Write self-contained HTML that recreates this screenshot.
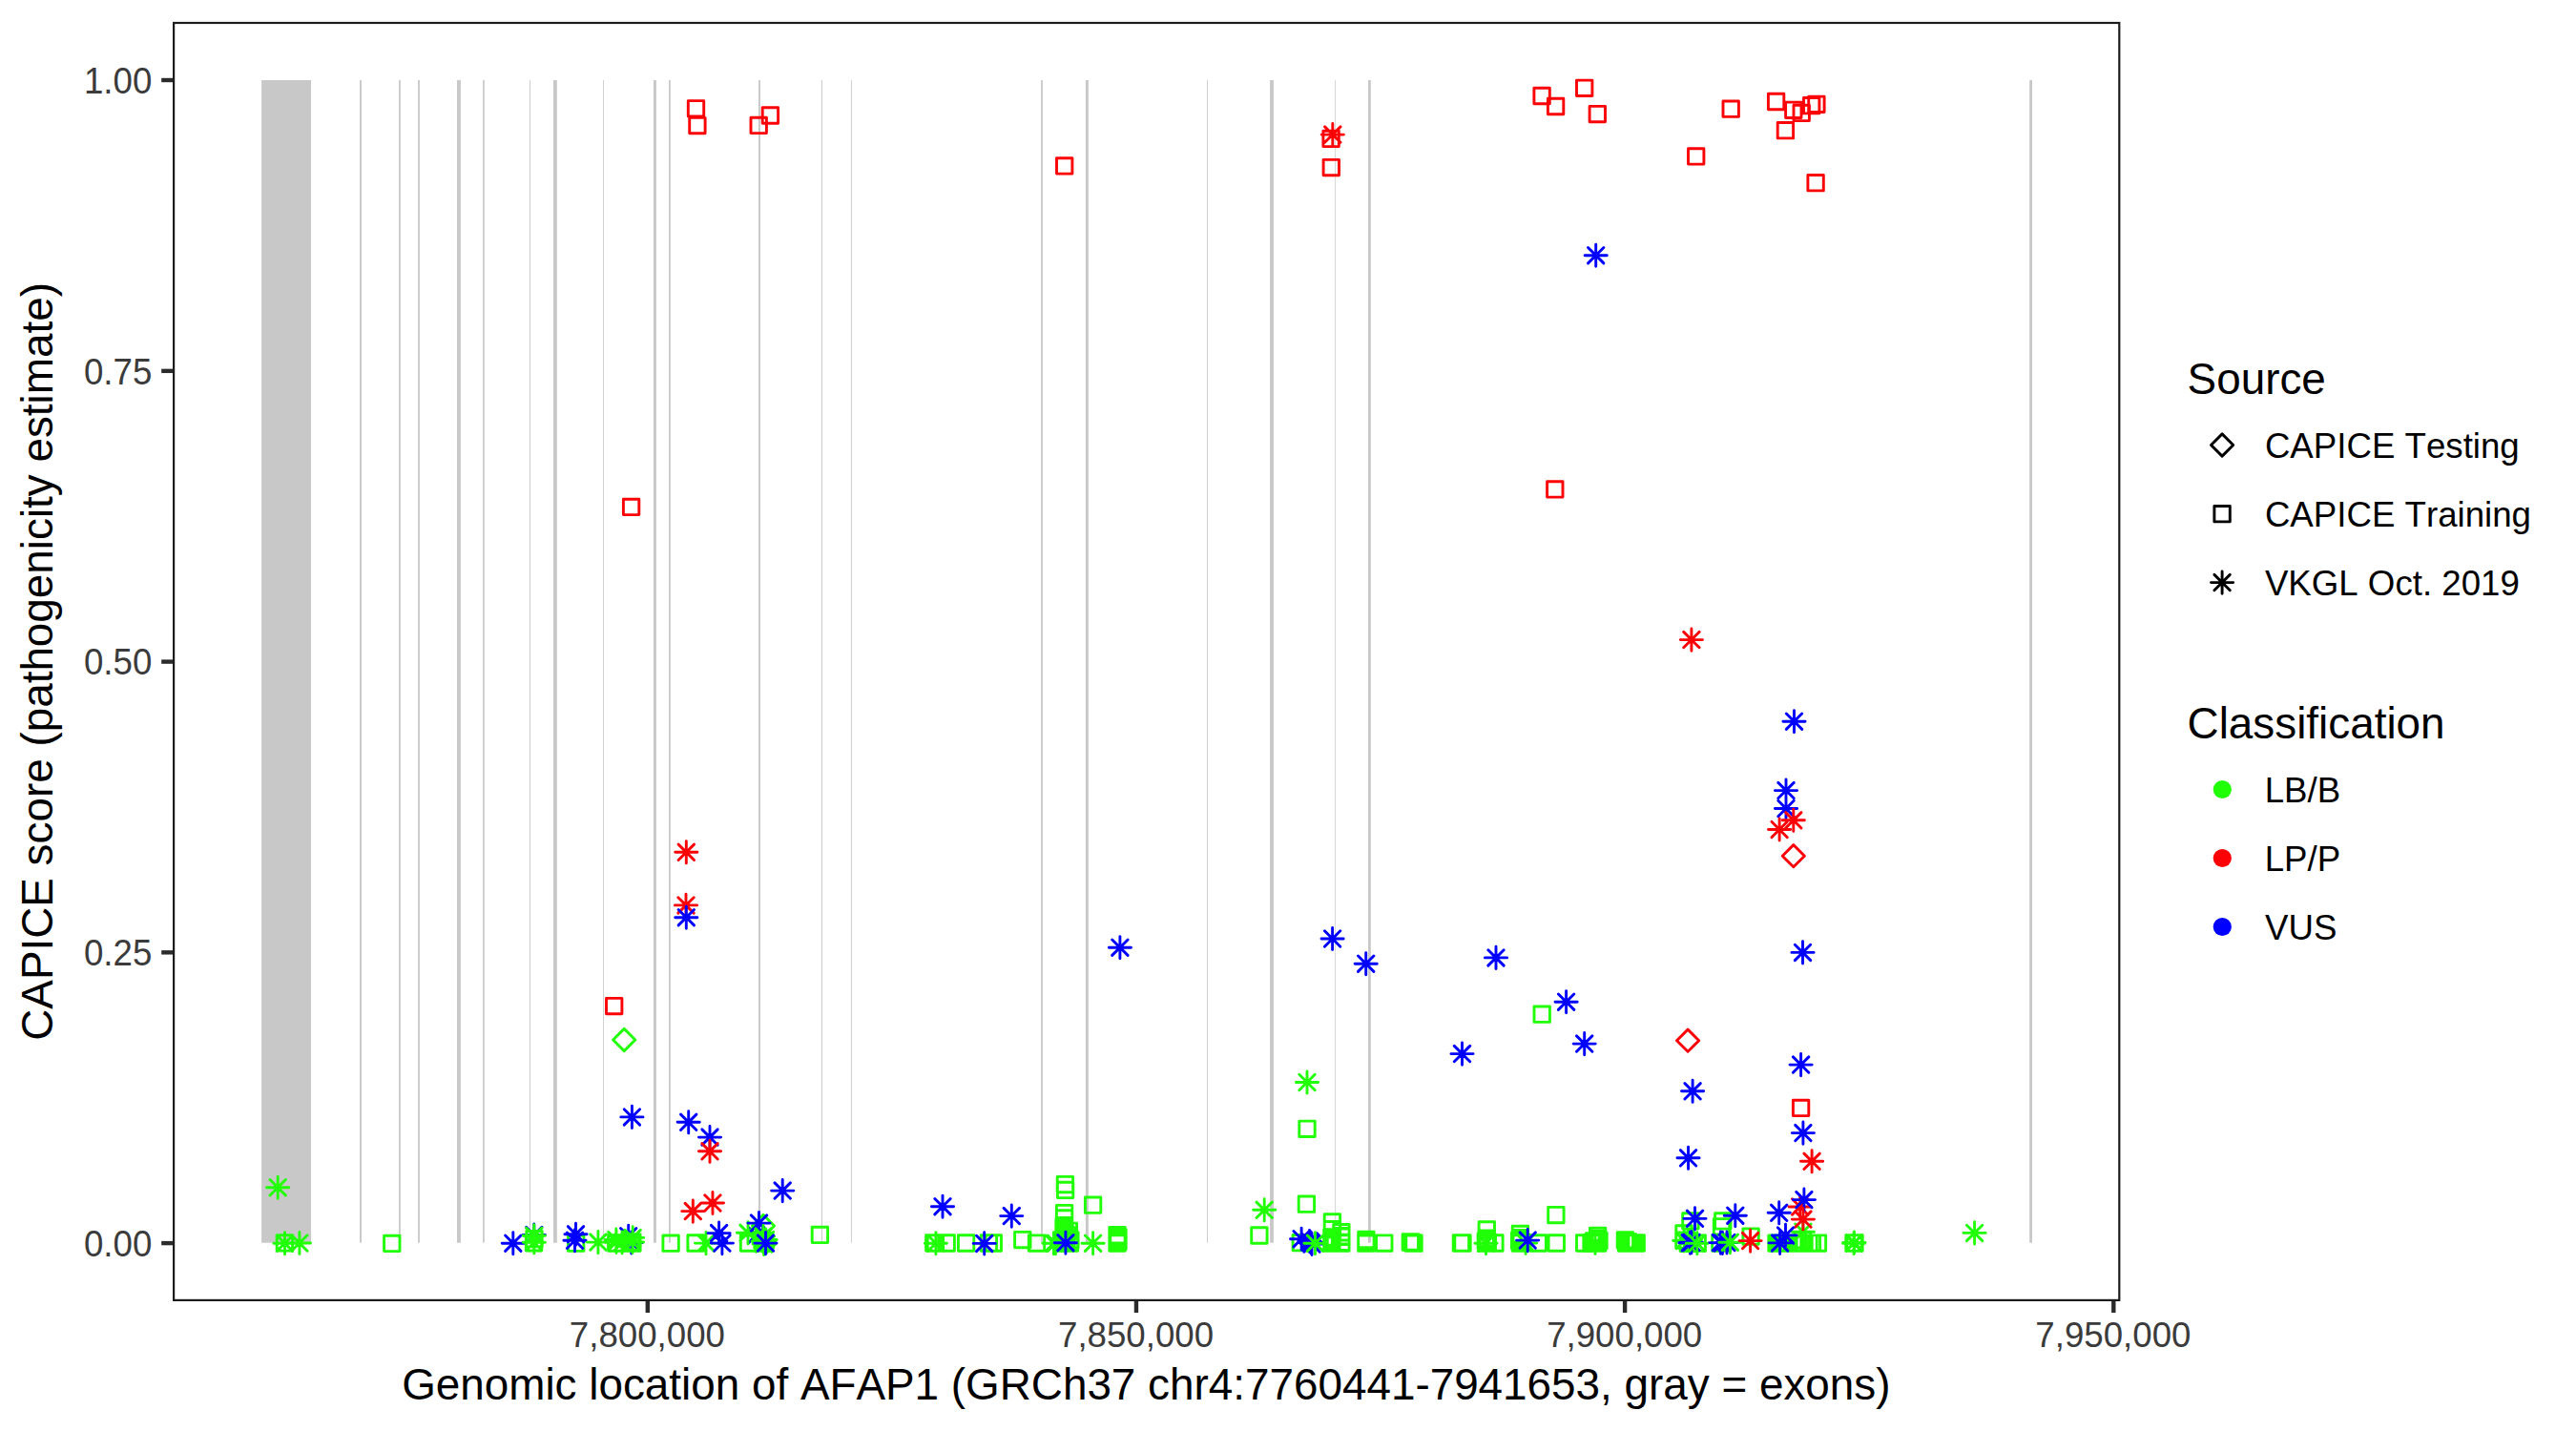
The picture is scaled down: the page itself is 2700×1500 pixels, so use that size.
<!DOCTYPE html>
<html lang="en">
<head>
<meta charset="utf-8">
<title>CAPICE score AFAP1</title>
<style>
html,body{margin:0;padding:0;background:#fff;}
body{width:2700px;height:1500px;overflow:hidden;}
svg{display:block;}
text{font-family:"Liberation Sans",Arial,Helvetica,sans-serif;font-kerning:none;}
.tk{font-size:36.67px;fill:#3b3b3b;}
.ti{font-size:45.83px;fill:#000;}
.lg{font-size:36.67px;fill:#000;}
.pt{fill:none;stroke-width:2.9;stroke-linecap:round;stroke-linejoin:round;}
</style>
</head>
<body>
<svg width="2700" height="1500" viewBox="0 0 2700 1500">
<rect x="0" y="0" width="2700" height="1500" fill="#ffffff"/>

<g fill="#c8c8c8">
<rect x="274.1" y="84" width="51.9" height="1218.7"/>
<rect x="377" y="84" width="1.9" height="1218.7"/>
<rect x="418.05" y="84" width="1.75" height="1218.7"/>
<rect x="438.1" y="84" width="1.8" height="1218.7"/>
<rect x="479" y="84" width="3.9" height="1218.7"/>
<rect x="506.1" y="84" width="1.7" height="1218.7"/>
<rect x="555" y="84" width="0.9" height="1218.7"/>
<rect x="580" y="84" width="3.8" height="1218.7"/>
<rect x="632.05" y="84" width="0.85" height="1218.7"/>
<rect x="684.95" y="84" width="2.95" height="1218.7"/>
<rect x="701" y="84" width="1.75" height="1218.7"/>
<rect x="795" y="84" width="1.9" height="1218.7"/>
<rect x="860.85" y="84" width="1.05" height="1218.7"/>
<rect x="891.95" y="84" width="0.85" height="1218.7"/>
<rect x="1091.1" y="84" width="1.75" height="1218.7"/>
<rect x="1137.9" y="84" width="2.95" height="1218.7"/>
<rect x="1265" y="84" width="0.9" height="1218.7"/>
<rect x="1331.1" y="84" width="3.8" height="1218.7"/>
<rect x="1399.2" y="84" width="0.7" height="1218.7"/>
<rect x="1434" y="84" width="2.8" height="1218.7"/>
<rect x="2127.2" y="84" width="2.8" height="1218.7"/>
</g>

<g class="pt">
<path stroke="#FB0207" d="M721.3 105.6h16.4v16.4h-16.4zM722.7 123.4h16.4v16.4h-16.4zM787 123.2h16.4v16.4h-16.4zM799.2 112.8h16.4v16.4h-16.4zM1107.5 165.7h16.4v16.4h-16.4zM1387.1 167.4h16.4v16.4h-16.4zM1386.9 137.2h16.4v16.4h-16.4zM1388.6 132.9l16.4 16.4M1388.6 149.3l16.4 -16.4M1385.2 141.1h23.19M1396.8 129.5v23.19M1607.9 92.3h16.4v16.4h-16.4zM1622.4 103.3h16.4v16.4h-16.4zM1652.5 84.1h16.4v16.4h-16.4zM1666.1 111.4h16.4v16.4h-16.4zM1769.5 155.7h16.4v16.4h-16.4zM1806 106h16.4v16.4h-16.4zM1853.4 98.3h16.4v16.4h-16.4zM1863.2 128.5h16.4v16.4h-16.4zM1871.6 107.15h16.4v16.4h-16.4zM1880 110.2h16.4v16.4h-16.4zM1890.5 102.5h16.4v16.4h-16.4zM1895.7 101.1h16.4v16.4h-16.4zM1894.9 183.5h16.4v16.4h-16.4z"/>
<path stroke="#0000FF" d="M1664.5 259.5l16.4 16.4M1664.5 275.9l16.4 -16.4M1661.1 267.7h23.19M1672.7 256.1v23.19"/>
<path stroke="#FB0207" d="M653.4 523.2h16.4v16.4h-16.4zM1621.6 504.7h16.4v16.4h-16.4zM1764.7 662.4l16.4 16.4M1764.7 678.8l16.4 -16.4M1761.3 670.6h23.19M1772.9 659v23.19M711.1 885.1l16.4 16.4M711.1 901.5l16.4 -16.4M707.7 893.3h23.19M719.3 881.7v23.19M710.8 940.7l16.4 16.4M710.8 957.1l16.4 -16.4M707.4 948.9h23.19M719 937.3v23.19"/>
<path stroke="#0000FF" d="M711.1 953.5l16.4 16.4M711.1 969.9l16.4 -16.4M707.7 961.7h23.19M719.3 950.1v23.19"/>
<path stroke="#FB0207" d="M635.5 1046.4h16.4v16.4h-16.4z"/>
<path stroke="#0000FF" d="M1165.7 985l16.4 16.4M1165.7 1001.4l16.4 -16.4M1162.3 993.2h23.19M1173.9 981.6v23.19M1388.4 975.8l16.4 16.4M1388.4 992.2l16.4 -16.4M1385 984h23.19M1396.6 972.4v23.19M1423.5 1002l16.4 16.4M1423.5 1018.4l16.4 -16.4M1420.1 1010.2h23.19M1431.7 998.6v23.19M1872.3 748l16.4 16.4M1872.3 764.4l16.4 -16.4M1868.9 756.2h23.19M1880.5 744.6v23.19M1863.8 820.4l16.4 16.4M1863.8 836.8l16.4 -16.4M1860.4 828.6h23.19M1872 817v23.19M1863.8 839.3l16.4 16.4M1863.8 855.7l16.4 -16.4M1860.4 847.5h23.19M1872 835.9v23.19"/>
<path stroke="#FB0207" d="M1871.6 851.6l16.4 16.4M1871.6 868l16.4 -16.4M1868.2 859.8h23.19M1879.8 848.2v23.19M1856.9 861.3l16.4 16.4M1856.9 877.7l16.4 -16.4M1853.5 869.5h23.19M1865.1 857.9v23.19M1868.2 897.2l11.6 -11.6l11.6 11.6l-11.6 11.6z"/>
<path stroke="#0000FF" d="M1881.3 990.2l16.4 16.4M1881.3 1006.6l16.4 -16.4M1877.9 998.4h23.19M1889.5 986.8v23.19M1559.8 995.7l16.4 16.4M1559.8 1012.1l16.4 -16.4M1556.4 1003.9h23.19M1568 992.3v23.19M1633.4 1042l16.4 16.4M1633.4 1058.4l16.4 -16.4M1630 1050.2h23.19M1641.6 1038.6v23.19"/>
<path stroke="#21FF06" d="M1608 1055h16.4v16.4h-16.4zM642.6 1090l11.6 -11.6l11.6 11.6l-11.6 11.6z"/>
<path stroke="#0000FF" d="M654.2 1162.7l16.4 16.4M654.2 1179.1l16.4 -16.4M650.8 1170.9h23.19M662.4 1159.3v23.19M713.5 1168.1l16.4 16.4M713.5 1184.5l16.4 -16.4M710.1 1176.3h23.19M721.7 1164.7v23.19M735.8 1183.9l16.4 16.4M735.8 1200.3l16.4 -16.4M732.4 1192.1h23.19M744 1180.5v23.19"/>
<path stroke="#FB0207" d="M735.8 1198.6l16.4 16.4M735.8 1215l16.4 -16.4M732.4 1206.8h23.19M744 1195.2v23.19"/>
<path stroke="#21FF06" d="M1361.8 1126.3l16.4 16.4M1361.8 1142.7l16.4 -16.4M1358.4 1134.5h23.19M1370 1122.9v23.19M1361.8 1175.1h16.4v16.4h-16.4z"/>
<path stroke="#0000FF" d="M1524.3 1096.4l16.4 16.4M1524.3 1112.8l16.4 -16.4M1520.9 1104.6h23.19M1532.5 1093v23.19M1652.5 1085.9l16.4 16.4M1652.5 1102.3l16.4 -16.4M1649.1 1094.1h23.19M1660.7 1082.5v23.19"/>
<path stroke="#FB0207" d="M1757.5 1090.7l11.6 -11.6l11.6 11.6l-11.6 11.6z"/>
<path stroke="#0000FF" d="M1765.9 1135.6l16.4 16.4M1765.9 1152l16.4 -16.4M1762.5 1143.8h23.19M1774.1 1132.2v23.19M1761.35 1205.6l16.4 16.4M1761.35 1222l16.4 -16.4M1757.95 1213.8h23.19M1769.55 1202.2v23.19M1879.4 1107.9l16.4 16.4M1879.4 1124.3l16.4 -16.4M1876 1116.1h23.19M1887.6 1104.5v23.19"/>
<path stroke="#FB0207" d="M1879.4 1153.2h16.4v16.4h-16.4z"/>
<path stroke="#0000FF" d="M1881.7 1179.4l16.4 16.4M1881.7 1195.8l16.4 -16.4M1878.3 1187.6h23.19M1889.9 1176v23.19"/>
<path stroke="#FB0207" d="M1890.9 1209.1l16.4 16.4M1890.9 1225.5l16.4 -16.4M1887.5 1217.3h23.19M1899.1 1205.7v23.19"/>
<path stroke="#21FF06" d="M283 1236.55l16.4 16.4M283 1252.95l16.4 -16.4M279.6 1244.75h23.19M291.2 1233.15v23.19M290.2 1294.7h16.4v16.4h-16.4zM290.3 1295l16.4 16.4M290.3 1311.4l16.4 -16.4M286.9 1303.2h23.19M298.5 1291.6v23.19M305.7 1294.8l16.4 16.4M305.7 1311.2l16.4 -16.4M302.3 1303h23.19M313.9 1291.4v23.19M402.6 1295.2h16.4v16.4h-16.4z"/>
<path stroke="#0000FF" d="M529.6 1295l16.4 16.4M529.6 1311.4l16.4 -16.4M526.2 1303.2h23.19M537.8 1291.6v23.19M551.6 1286.3l16.4 16.4M551.6 1302.7l16.4 -16.4M548.2 1294.5h23.19M559.8 1282.9v23.19"/>
<path stroke="#21FF06" d="M551.3 1294.6h16.4v16.4h-16.4zM551.8 1290.5h16.4v16.4h-16.4zM551.6 1287.1l16.4 16.4M551.6 1303.5l16.4 -16.4M548.2 1295.3h23.19M559.8 1283.7v23.19M551.6 1294.1l16.4 16.4M551.6 1310.5l16.4 -16.4M548.2 1302.3h23.19M559.8 1290.7v23.19M595.5 1295h16.4v16.4h-16.4z"/>
<path stroke="#0000FF" d="M595.3 1285.6l16.4 16.4M595.3 1302l16.4 -16.4M591.9 1293.8h23.19M603.5 1282.2v23.19M594.3 1292.1l16.4 16.4M594.3 1308.5l16.4 -16.4M590.9 1300.3h23.19M602.5 1288.7v23.19"/>
<path stroke="#21FF06" d="M618.7 1293.9l16.4 16.4M618.7 1310.3l16.4 -16.4M615.3 1302.1h23.19M626.9 1290.5v23.19"/>
<path stroke="#0000FF" d="M650.5 1287.5l16.4 16.4M650.5 1303.9l16.4 -16.4M647.1 1295.7h23.19M658.7 1284.1v23.19M653.6 1294.3l16.4 16.4M653.6 1310.7l16.4 -16.4M650.2 1302.5h23.19M661.8 1290.9v23.19"/>
<path stroke="#21FF06" d="M637.6 1294.8h16.4v16.4h-16.4zM654.7 1294.9h16.4v16.4h-16.4zM653.3 1293.8h16.4v16.4h-16.4zM637.6 1291.3l16.4 16.4M637.6 1307.7l16.4 -16.4M634.2 1299.5h23.19M645.8 1287.9v23.19M637.8 1293.8l16.4 16.4M637.8 1310.2l16.4 -16.4M634.4 1302h23.19M646 1290.4v23.19M643.9 1294.3l16.4 16.4M643.9 1310.7l16.4 -16.4M640.5 1302.5h23.19M652.1 1290.9v23.19M655 1289.2l16.4 16.4M655 1305.6l16.4 -16.4M651.6 1297.4h23.19M663.2 1285.8v23.19M654.8 1293.8l16.4 16.4M654.8 1310.2l16.4 -16.4M651.4 1302h23.19M663 1290.4v23.19M694.9 1295h16.4v16.4h-16.4zM720.9 1294.8h16.4v16.4h-16.4zM731.8 1294.9l16.4 16.4M731.8 1311.3l16.4 -16.4M728.4 1303.1h23.19M740 1291.5v23.19"/>
<path stroke="#0000FF" d="M745.4 1284.4l16.4 16.4M745.4 1300.8l16.4 -16.4M742 1292.6h23.19M753.6 1281v23.19M748.7 1294.9l16.4 16.4M748.7 1311.3l16.4 -16.4M745.3 1303.1h23.19M756.9 1291.5v23.19"/>
<path stroke="#FB0207" d="M718.1 1261.4l16.4 16.4M718.1 1277.8l16.4 -16.4M714.7 1269.6h23.19M726.3 1258v23.19M738.75 1252.8l16.4 16.4M738.75 1269.2l16.4 -16.4M735.35 1261h23.19M746.95 1249.4v23.19"/>
<path stroke="#0000FF" d="M784.5 1286.5l16.4 16.4M784.5 1302.9l16.4 -16.4M781.1 1294.7h23.19M792.7 1283.1v23.19"/>
<path stroke="#21FF06" d="M775.8 1284.1l16.4 16.4M775.8 1300.5l16.4 -16.4M772.4 1292.3h23.19M784 1280.7v23.19M776.3 1294.8h16.4v16.4h-16.4zM788.4 1285l11.6 -11.6l11.6 11.6l-11.6 11.6z"/>
<path stroke="#0000FF" d="M787.3 1273.9l16.4 16.4M787.3 1290.3l16.4 -16.4M783.9 1282.1h23.19M795.5 1270.5v23.19"/>
<path stroke="#21FF06" d="M792.2 1294.8h16.4v16.4h-16.4zM790.8 1291.8h16.4v16.4h-16.4zM793.4 1293.8h16.4v16.4h-16.4zM790.4 1303.1l11.6 -11.6l11.6 11.6l-11.6 11.6zM789.4 1302.2l11.6 -11.6l11.6 11.6l-11.6 11.6zM791.8 1287.8l16.4 16.4M791.8 1304.2l16.4 -16.4M788.4 1296h23.19M800 1284.4v23.19M792.8 1294.8l16.4 16.4M792.8 1311.2l16.4 -16.4M789.4 1303h23.19M801 1291.4v23.19M791.4 1292.8l16.4 16.4M791.4 1309.2l16.4 -16.4M788 1301h23.19M799.6 1289.4v23.19M794.4 1291.3l16.4 16.4M794.4 1307.7l16.4 -16.4M791 1299.5h23.19M802.6 1287.9v23.19M792.4 1295.8l16.4 16.4M792.4 1312.2l16.4 -16.4M789 1304h23.19M800.6 1292.4v23.19"/>
<path stroke="#0000FF" d="M794.3 1294.9l16.4 16.4M794.3 1311.3l16.4 -16.4M790.9 1303.1h23.19M802.5 1291.5v23.19M812 1239.9l16.4 16.4M812 1256.3l16.4 -16.4M808.6 1248.1h23.19M820.2 1236.5v23.19"/>
<path stroke="#21FF06" d="M851.2 1286.2h16.4v16.4h-16.4z"/>
<path stroke="#0000FF" d="M979.8 1256.5l16.4 16.4M979.8 1272.9l16.4 -16.4M976.4 1264.7h23.19M988 1253.1v23.19"/>
<path stroke="#21FF06" d="M970.6 1294.8h16.4v16.4h-16.4zM972.2 1294.8h16.4v16.4h-16.4zM972.7 1295l16.4 16.4M972.7 1311.4l16.4 -16.4M969.3 1303.2h23.19M980.9 1291.6v23.19M984 1294.8h16.4v16.4h-16.4zM1004.4 1294.8h16.4v16.4h-16.4zM1028.2 1294.8h16.4v16.4h-16.4zM1033.1 1294.8h16.4v16.4h-16.4z"/>
<path stroke="#0000FF" d="M1023.5 1295.2l16.4 16.4M1023.5 1311.6l16.4 -16.4M1020.1 1303.4h23.19M1031.7 1291.8v23.19M1052.1 1266.4l16.4 16.4M1052.1 1282.8l16.4 -16.4M1048.7 1274.6h23.19M1060.3 1263v23.19"/>
<path stroke="#21FF06" d="M1063.6 1291.4h16.4v16.4h-16.4zM1078.3 1294.9h16.4v16.4h-16.4zM1096.2 1295l16.4 16.4M1096.2 1311.4l16.4 -16.4M1092.8 1303.2h23.19M1104.4 1291.6v23.19M1098.2 1295l16.4 16.4M1098.2 1311.4l16.4 -16.4M1094.8 1303.2h23.19M1106.4 1291.6v23.19M1108.2 1233.4h16.4v16.4h-16.4zM1108.4 1239.2h16.4v16.4h-16.4zM1107.4 1263.4h16.4v16.4h-16.4zM1107.4 1268.8h16.4v16.4h-16.4zM1107.1 1276.4h16.4v16.4h-16.4zM1106.8 1279h16.4v16.4h-16.4zM1107.3 1281.3h16.4v16.4h-16.4zM1112.2 1282.1h16.4v16.4h-16.4zM1107.8 1284.3h16.4v16.4h-16.4zM1109.8 1286.8h16.4v16.4h-16.4zM1107.8 1289.3h16.4v16.4h-16.4zM1113.7 1291.6h16.4v16.4h-16.4zM1106.8 1292.3h16.4v16.4h-16.4zM1106.3 1294.8h16.4v16.4h-16.4zM1109.8 1294.8h16.4v16.4h-16.4zM1113.3 1294.8h16.4v16.4h-16.4z"/>
<path stroke="#0000FF" d="M1108.7 1294.5l16.4 16.4M1108.7 1310.9l16.4 -16.4M1105.3 1302.7h23.19M1116.9 1291.1v23.19"/>
<path stroke="#21FF06" d="M1137.4 1254.95h16.4v16.4h-16.4zM1137.4 1295l16.4 16.4M1137.4 1311.4l16.4 -16.4M1134 1303.2h23.19M1145.6 1291.6v23.19M1162.8 1286.55h16.4v16.4h-16.4zM1163.8 1288.8h16.4v16.4h-16.4zM1162.8 1291.3h16.4v16.4h-16.4zM1163.8 1293.3h16.4v16.4h-16.4zM1162.8 1294.8h16.4v16.4h-16.4zM1317 1260.1l16.4 16.4M1317 1276.5l16.4 -16.4M1313.6 1268.3h23.19M1325.2 1256.7v23.19M1311.7 1286.8h16.4v16.4h-16.4zM1361.2 1254h16.4v16.4h-16.4zM1355.1 1294.5h16.4v16.4h-16.4z"/>
<path stroke="#0000FF" d="M1355.9 1290.5l16.4 16.4M1355.9 1306.9l16.4 -16.4M1352.5 1298.7h23.19M1364.1 1287.1v23.19M1364.3 1292.8l16.4 16.4M1364.3 1309.2l16.4 -16.4M1360.9 1301h23.19M1372.5 1289.4v23.19M1366.8 1295.8l16.4 16.4M1366.8 1312.2l16.4 -16.4M1363.4 1304h23.19M1375 1292.4v23.19M1365.8 1294.3l16.4 16.4M1365.8 1310.7l16.4 -16.4M1362.4 1302.5h23.19M1374 1290.9v23.19"/>
<path stroke="#21FF06" d="M1370.3 1295l16.4 16.4M1370.3 1311.4l16.4 -16.4M1366.9 1303.2h23.19M1378.5 1291.6v23.19M1388.2 1272.7h16.4v16.4h-16.4zM1388.2 1280.5h16.4v16.4h-16.4zM1387.7 1288.8h16.4v16.4h-16.4zM1387.7 1291.3h16.4v16.4h-16.4zM1387.7 1293.3h16.4v16.4h-16.4zM1387.7 1295h16.4v16.4h-16.4zM1397.7 1283.55h16.4v16.4h-16.4zM1397.7 1287.5h16.4v16.4h-16.4zM1397.7 1288.1h16.4v16.4h-16.4zM1397.7 1294.1h16.4v16.4h-16.4zM1397.7 1294.9h16.4v16.4h-16.4zM1423.7 1291.3h16.4v16.4h-16.4zM1423.7 1293.1h16.4v16.4h-16.4zM1423.7 1295h16.4v16.4h-16.4zM1442.6 1294.9h16.4v16.4h-16.4zM1470.1 1293.8h16.4v16.4h-16.4zM1472 1294.4h16.4v16.4h-16.4zM1473.8 1295h16.4v16.4h-16.4zM1523.2 1294.8h16.4v16.4h-16.4zM1524.8 1294.8h16.4v16.4h-16.4zM1550.1 1280.8h16.4v16.4h-16.4zM1550.1 1290h16.4v16.4h-16.4zM1550.1 1294.8h16.4v16.4h-16.4zM1549.1 1292.8h16.4v16.4h-16.4zM1551.1 1293.8h16.4v16.4h-16.4zM1558.7 1294.8h16.4v16.4h-16.4zM1549.3 1295l16.4 16.4M1549.3 1311.4l16.4 -16.4M1545.9 1303.2h23.19M1557.5 1291.6v23.19M1585.2 1285.3h16.4v16.4h-16.4zM1585.2 1289.5h16.4v16.4h-16.4zM1585.2 1294.8h16.4v16.4h-16.4zM1584.4 1292.3h16.4v16.4h-16.4zM1586 1293.6h16.4v16.4h-16.4zM1590.9 1294.8l16.4 16.4M1590.9 1311.2l16.4 -16.4M1587.5 1303h23.19M1599.1 1291.4v23.19M1604 1294.8h16.4v16.4h-16.4zM1622.7 1265.4h16.4v16.4h-16.4zM1623.1 1294.8h16.4v16.4h-16.4zM1652.5 1294.8h16.4v16.4h-16.4z"/>
<path stroke="#0000FF" d="M1593 1291.9l16.4 16.4M1593 1308.3l16.4 -16.4M1589.6 1300.1h23.19M1601.2 1288.5v23.19"/>
<path stroke="#21FF06" d="M1666.4 1287.2h16.4v16.4h-16.4zM1666.4 1290.5h16.4v16.4h-16.4zM1666.4 1294.8h16.4v16.4h-16.4zM1659.8 1294.8h16.4v16.4h-16.4zM1662.3 1292.8h16.4v16.4h-16.4zM1664.3 1293.8h16.4v16.4h-16.4zM1667.8 1292.3h16.4v16.4h-16.4zM1663.8 1294.8l16.4 16.4M1663.8 1311.2l16.4 -16.4M1660.4 1303h23.19M1672 1291.4v23.19M1695.2 1291.6h16.4v16.4h-16.4zM1696.3 1294.8h16.4v16.4h-16.4zM1698.3 1293.8h16.4v16.4h-16.4zM1699.8 1294.8h16.4v16.4h-16.4zM1702.3 1294.8h16.4v16.4h-16.4zM1704.6 1294.8h16.4v16.4h-16.4zM1707 1294.8h16.4v16.4h-16.4zM1763.7 1271.7h16.4v16.4h-16.4zM1756.8 1284.7h16.4v16.4h-16.4zM1756.7 1292h16.4v16.4h-16.4zM1771 1295h16.4v16.4h-16.4zM1761.1 1295.1h16.4v16.4h-16.4zM1760.2 1299.7l11.6 -11.6l11.6 11.6l-11.6 11.6zM1757 1292.3l16.4 16.4M1757 1308.7l16.4 -16.4M1753.6 1300.5h23.19M1765.2 1288.9v23.19"/>
<path stroke="#0000FF" d="M1763.2 1294.5l16.4 16.4M1763.2 1310.9l16.4 -16.4M1759.8 1302.7h23.19M1771.4 1291.1v23.19M1764.7 1294.1l16.4 16.4M1764.7 1310.5l16.4 -16.4M1761.3 1302.3h23.19M1772.9 1290.7v23.19"/>
<path stroke="#21FF06" d="M1770.6 1295l16.4 16.4M1770.6 1311.4l16.4 -16.4M1767.2 1303.2h23.19M1778.8 1291.6v23.19"/>
<path stroke="#0000FF" d="M1768.3 1269.15l16.4 16.4M1768.3 1285.55l16.4 -16.4M1764.9 1277.35h23.19M1776.5 1265.75v23.19"/>
<path stroke="#21FF06" d="M1797.6 1271.7h16.4v16.4h-16.4zM1796.3 1277.6h16.4v16.4h-16.4zM1794.7 1294.8h16.4v16.4h-16.4z"/>
<path stroke="#0000FF" d="M1795.1 1294.4l16.4 16.4M1795.1 1310.8l16.4 -16.4M1791.7 1302.6h23.19M1803.3 1291v23.19M1797.2 1294.7l16.4 16.4M1797.2 1311.1l16.4 -16.4M1793.8 1302.9h23.19M1805.4 1291.3v23.19M1801.8 1294.3l16.4 16.4M1801.8 1310.7l16.4 -16.4M1798.4 1302.5h23.19M1810 1290.9v23.19"/>
<path stroke="#21FF06" d="M1805.2 1294l16.4 16.4M1805.2 1310.4l16.4 -16.4M1801.8 1302.2h23.19M1813.4 1290.6v23.19"/>
<path stroke="#0000FF" d="M1810.6 1266l16.4 16.4M1810.6 1282.4l16.4 -16.4M1807.2 1274.2h23.19M1818.8 1262.6v23.19"/>
<path stroke="#21FF06" d="M1826.9 1287.9h16.4v16.4h-16.4z"/>
<path stroke="#FB0207" d="M1826.4 1292.4l16.4 16.4M1826.4 1308.8l16.4 -16.4M1823 1300.6h23.19M1834.6 1289v23.19"/>
<path stroke="#0000FF" d="M1856.5 1263.1l16.4 16.4M1856.5 1279.5l16.4 -16.4M1853.1 1271.3h23.19M1864.7 1259.7v23.19"/>
<path stroke="#FB0207" d="M1878.5 1256.8l16.4 16.4M1878.5 1273.2l16.4 -16.4M1875.1 1265h23.19M1886.7 1253.4v23.19"/>
<path stroke="#0000FF" d="M1882.7 1249.4l16.4 16.4M1882.7 1265.8l16.4 -16.4M1879.3 1257.6h23.19M1890.9 1246v23.19"/>
<path stroke="#21FF06" d="M1881.7 1283l16.4 16.4M1881.7 1299.4l16.4 -16.4M1878.3 1291.2h23.19M1889.9 1279.6v23.19"/>
<path stroke="#FB0207" d="M1881.7 1269.9l16.4 16.4M1881.7 1286.3l16.4 -16.4M1878.3 1278.1h23.19M1889.9 1266.5v23.19"/>
<path stroke="#21FF06" d="M1881.3 1291.6h16.4v16.4h-16.4zM1853.8 1294.9h16.4v16.4h-16.4zM1856.3 1294.9h16.4v16.4h-16.4zM1858.8 1294.9h16.4v16.4h-16.4zM1861.3 1294.9h16.4v16.4h-16.4zM1863.8 1294.9h16.4v16.4h-16.4zM1866.7 1294.9h16.4v16.4h-16.4zM1871.8 1294.9h16.4v16.4h-16.4zM1874.3 1294.9h16.4v16.4h-16.4zM1876.8 1294.9h16.4v16.4h-16.4zM1879.8 1294.9h16.4v16.4h-16.4zM1882.8 1294.9h16.4v16.4h-16.4zM1887.8 1294.9h16.4v16.4h-16.4zM1891.2 1294.9h16.4v16.4h-16.4zM1897.25 1294.9h16.4v16.4h-16.4z"/>
<path stroke="#0000FF" d="M1863.3 1286.7l16.4 16.4M1863.3 1303.1l16.4 -16.4M1859.9 1294.9h23.19M1871.5 1283.3v23.19M1857.4 1294.7l16.4 16.4M1857.4 1311.1l16.4 -16.4M1854 1302.9h23.19M1865.6 1291.3v23.19"/>
<path stroke="#21FF06" d="M1934.8 1294.8h16.4v16.4h-16.4zM1935.8 1294.8h16.4v16.4h-16.4zM1934.9 1295l16.4 16.4M1934.9 1311.4l16.4 -16.4M1931.5 1303.2h23.19M1943.1 1291.6v23.19M1935.3 1294.3l16.4 16.4M1935.3 1310.7l16.4 -16.4M1931.9 1302.5h23.19M1943.5 1290.9v23.19M2061.4 1284.2l16.4 16.4M2061.4 1300.6l16.4 -16.4M2058 1292.4h23.19M2069.6 1280.8v23.19"/>
</g>

<g fill="#21FF06"><rect x="1389" y="1297.6" width="3.7" height="12.4"/><rect x="1394.9" y="1297.6" width="8.3" height="12.4"/></g>

<rect x="182.1" y="24" width="2039.2" height="1338.9" fill="none" stroke="#1c1c1c" stroke-width="2.2"/>

<g stroke="#2b2b2b" stroke-width="4.4">
<path d="M169.2 1303.1H181"/>
<path d="M169.2 998.35H181"/>
<path d="M169.2 693.6H181"/>
<path d="M169.2 388.85H181"/>
<path d="M169.2 84H181"/>
<path d="M678.8 1364V1376"/>
<path d="M1190.95 1364V1376"/>
<path d="M1703.1 1364V1376"/>
<path d="M2215.3 1364V1376"/>
</g>

<g class="tk">
<text transform="translate(159.3 1316.8) scale(1 1.04)" text-anchor="end">0.00</text>
<text transform="translate(159.3 1012.05) scale(1 1.04)" text-anchor="end">0.25</text>
<text transform="translate(159.3 707.3) scale(1 1.04)" text-anchor="end">0.50</text>
<text transform="translate(159.3 402.55) scale(1 1.04)" text-anchor="end">0.75</text>
<text transform="translate(159.3 97.7) scale(1 1.04)" text-anchor="end">1.00</text>
<text transform="translate(678.4 1411.9) scale(1 1.03)" text-anchor="middle">7,800,000</text>
<text transform="translate(1190.55 1411.9) scale(1 1.03)" text-anchor="middle">7,850,000</text>
<text transform="translate(1702.7 1411.9) scale(1 1.03)" text-anchor="middle">7,900,000</text>
<text transform="translate(2214.9 1411.9) scale(1 1.03)" text-anchor="middle">7,950,000</text>
</g>

<text class="ti" x="1201.3" y="1467" text-anchor="middle">Genomic location of AFAP1 (GRCh37 chr4:7760441-7941653, gray = exons)</text>

<text class="ti" transform="translate(54.9 693.4) rotate(-90)" text-anchor="middle">CAPICE score (pathogenicity estimate)</text>

<text class="ti" x="2292.6" y="412.7">Source</text>

<g class="pt" stroke="#000">
<path d="M2317.5 466.5l11.6 -11.6l11.6 11.6l-11.6 11.6z"/>
<path d="M2320.9 530.5h16.4v16.4h-16.4z"/>
<path d="M2320.9 602.4l16.4 16.4M2320.9 618.8l16.4 -16.4M2317.5 610.6h23.19M2329.1 599v23.19"/>
</g>

<g class="lg">
<text x="2373.9" y="480.3">CAPICE Testing</text>
<text x="2373.9" y="552.4">CAPICE Training</text>
<text x="2373.9" y="624.4">VKGL Oct. 2019</text>
</g>

<text class="ti" x="2292.6" y="774.3">Classification</text>

<circle cx="2329.3" cy="827.5" r="9.6" fill="#21FF06"/>
<circle cx="2329.3" cy="899.5" r="9.6" fill="#FB0207"/>
<circle cx="2329.3" cy="971.5" r="9.6" fill="#0000FF"/>

<g class="lg">
<text x="2373.7" y="841.3">LB/B</text>
<text x="2373.7" y="913.3">LP/P</text>
<text x="2374.1" y="985.3">VUS</text>
</g>

</svg>
</body>
</html>
